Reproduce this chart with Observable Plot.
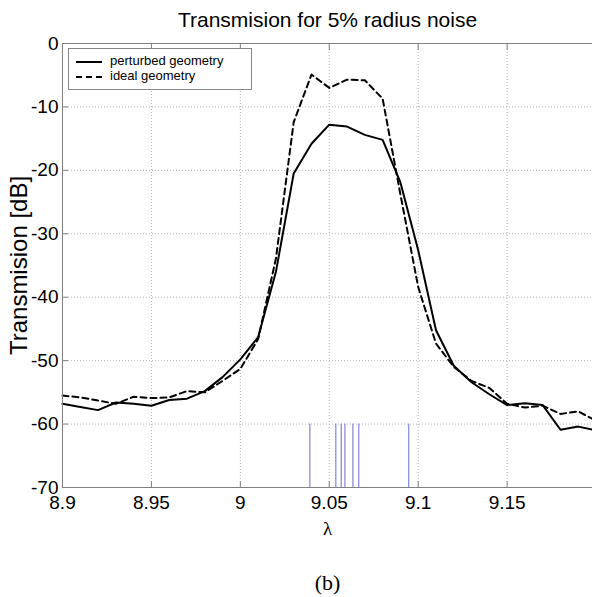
<!DOCTYPE html>
<html><head><meta charset="utf-8">
<script src="https://cdn.jsdelivr.net/npm/d3@7"></script>
<script src="https://cdn.jsdelivr.net/npm/@observablehq/plot@0.6"></script>
<style>
body{margin:0;background:#fff;}
#wrap{position:relative;width:592px;height:597px;overflow:hidden;}
#legend{position:absolute;left:68px;top:48px;width:182px;height:40px;border:1px solid #888;background:#fff;font:13px "Liberation Sans",Arial,sans-serif;color:#000;}
#legend .row{position:absolute;left:0;height:14px;line-height:14px;}
#legend svg{position:absolute;left:7px;}
#legend span{position:absolute;left:41px;top:0;white-space:nowrap;}
</style></head><body><div id="wrap"></div>
<script>
const lambda    = [8.90,8.91,8.92,8.93,8.94,8.95,8.96,8.97,8.98,8.99,9.00,9.01,9.02,9.03,9.04,9.05,9.06,9.07,9.08,9.09,9.10,9.11,9.12,9.13,9.14,9.15,9.16,9.17,9.18,9.19,9.20];
const perturbed = [-56.8,-57.3,-57.8,-56.6,-56.8,-57.1,-56.2,-56.0,-54.8,-52.6,-49.8,-46.3,-36.0,-20.5,-15.8,-12.8,-13.1,-14.4,-15.2,-21.9,-32.6,-45.2,-50.8,-53.4,-55.3,-57.0,-56.7,-57.0,-60.9,-60.4,-61.0];
const ideal     = [-55.5,-55.8,-56.3,-56.8,-55.7,-55.9,-55.8,-54.8,-55.0,-53.2,-51.3,-46.6,-33.9,-12.4,-4.9,-7.0,-5.7,-5.8,-8.7,-23.8,-38.4,-47.3,-51.0,-53.2,-54.3,-56.8,-57.4,-57.1,-58.4,-58.0,-59.5];
const resonances = [9.0391,9.0537,9.0567,9.0588,9.0633,9.0666,9.0947];
const resonanceFrom = -70, resonanceTo = -60;
const xTicks = [8.9,8.95,9,9.05,9.1,9.15];
const yTicks = [0,-10,-20,-30,-40,-50,-60,-70];
const xDomain = [8.9, 9.198];
const yDomain = [-70, 0];
const seriesNames = ["perturbed geometry","ideal geometry"];
const titleText = "Transmision for 5% radius noise";
const xLabel = "λ";
const yLabel = "Transmision [dB]";
const caption = "(b)";

const pert = lambda.map((l,i)=>({l, v: perturbed[i]}));
const idl  = lambda.map((l,i)=>({l, v: ideal[i]}));
const axisGray = "#808080";
const gridStyle = {stroke:"#b4b4b4", strokeOpacity:1, strokeDasharray:"1,2"};
const sans = '"Liberation Sans", Arial, sans-serif';
const serif = '"Liberation Serif", "Times New Roman", serif';
const centered = {textAnchor:"middle", lineAnchor:"middle", fill:"black"};

const chart = Plot.plot({
  width:592, height:597,
  marginLeft:62, marginRight:0, marginTop:43, marginBottom:110,
  style:{fontFamily:sans, background:"white", color:"black", overflow:"hidden"},
  x:{domain:xDomain},
  y:{domain:yDomain},
  marks:[
    Plot.gridX(xTicks, gridStyle),
    Plot.gridY(yTicks, gridStyle),
    Plot.ruleX(resonances, {y1: resonanceFrom, y2: resonanceTo, stroke:"#6b6bd2", strokeWidth:1}),
    Plot.line(idl, {x:"l", y:"v", stroke:"black", strokeWidth:2, strokeDasharray:"6,4"}),
    Plot.line(pert, {x:"l", y:"v", stroke:"black", strokeWidth:2}),
    Plot.ruleY([yDomain[0]], {stroke:axisGray}),
    Plot.ruleY([yDomain[1]], {stroke:axisGray}),
    Plot.ruleX([xDomain[0]], {stroke:axisGray}),
    Plot.axisX(xTicks, {tickSize:6, dy:-6, tickFormat:()=>"", stroke:axisGray, label:null}),
    Plot.axisX(xTicks, {anchor:"top", tickSize:6, dy:6, tickFormat:()=>"", stroke:axisGray, label:null}),
    Plot.axisY(yTicks, {tickSize:6, dx:6, tickFormat:()=>"", stroke:axisGray, label:null}),
    Plot.axisX(xTicks, {tickSize:0, tickPadding:8, fontSize:19, fill:"black", tickFormat:d=>String(d), label:null}),
    Plot.axisY(yTicks, {tickSize:0, tickPadding:4, fontSize:19, fill:"black", tickFormat:d=>String(d), label:null}),
    Plot.text([titleText], {frameAnchor:"top", dy:-23, fontSize:21, ...centered}),
    Plot.text([yLabel], {frameAnchor:"left", rotate:-90, dx:-43, fontSize:24, ...centered}),
    Plot.text([xLabel], {frameAnchor:"bottom", dy:41, fontSize:19, fontFamily:serif, ...centered}),
    Plot.text([caption], {frameAnchor:"bottom", dy:95, fontSize:22, fontFamily:serif, ...centered})
  ]
});
const wrap = document.getElementById("wrap");
wrap.appendChild(chart);

const legend = document.createElement("div");
legend.id = "legend";
const dashes = ["", "6,4"];
seriesNames.forEach((name, i) => {
  const row = document.createElement("div");
  row.className = "row";
  row.style.top = (5 + i*15) + "px";
  row.style.width = "100%";
  row.innerHTML = `<svg width="26" height="4" style="top:6px"><line x1="0" y1="2" x2="26" y2="2" stroke="black" stroke-width="2" ${dashes[i] ? `stroke-dasharray="${dashes[i]}"` : ""}/></svg><span>${name}</span>`;
  legend.appendChild(row);
});
wrap.appendChild(legend);
</script>
</body></html>
